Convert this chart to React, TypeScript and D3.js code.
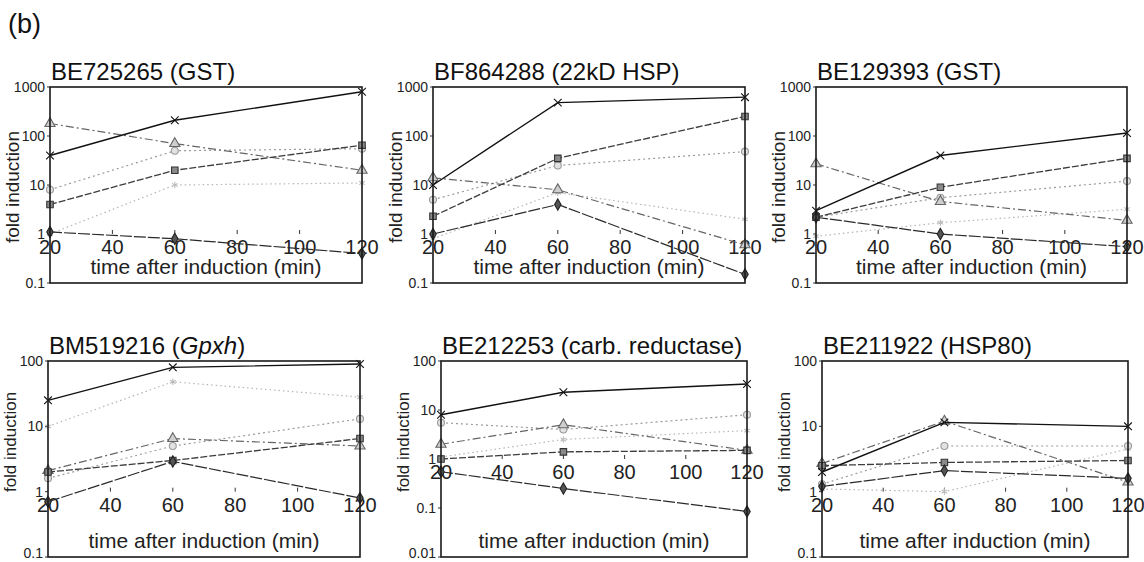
import React from 'react';
import * as d3 from 'd3';

// sampling times (min)
const times = [20, 60, 120];
const xTicks = [20, 40, 60, 80, 100, 120];

const panelIds = ['BE725265', 'BF864288', 'BE129393', 'BM519216', 'BE212253', 'BE211922'];
const panelGenes = ['GST', '22kD HSP', 'GST', 'Gpxh', 'carb. reductase', 'HSP80'];
const italicGene = [false, false, false, true, false, false];

const yDomains = [
  [0.1, 1000],
  [0.1, 1000],
  [0.1, 1000],
  [0.1, 100],
  [0.01, 100],
  [0.1, 100],
];
const yTickValues = [
  [0.1, 1, 10, 100, 1000],
  [0.1, 1, 10, 100, 1000],
  [0.1, 1, 10, 100, 1000],
  [0.1, 1, 10, 100],
  [0.01, 0.1, 1, 10, 100],
  [0.1, 1, 10, 100],
];

// series order: cross, square, triangle, circle, diamond, light
const seriesKinds = ['cross', 'square', 'triangle', 'circle', 'diamond', 'light'];

const be725265 = [
  [40, 210, 800],
  [4, 20, 65],
  [180, 70, 20],
  [8, 50, 55],
  [1.1, 0.8, 0.4],
  [1, 10, 11],
];
const bf864288 = [
  [10, 480, 620],
  [2.3, 35, 250],
  [14, 8, 0.6],
  [5, 25, 48],
  [1, 4, 0.15],
  [0.8, 7, 2],
];
const be129393 = [
  [3, 40, 115],
  [2.2, 9, 35],
  [27, 4.6, 1.9],
  [2.2, 5.5, 12],
  [2.2, 1.0, 0.55],
  [0.9, 1.7, 3.2],
];
const bm519216 = [
  [25, 80, 90],
  [2, 3, 6.5],
  [2.1, 6.5, 5],
  [1.6, 5, 13],
  [0.7, 2.9, 0.8],
  [10, 48, 28],
];
const be212253 = [
  [8, 23, 34],
  [1, 1.4, 1.5],
  [2, 5, 1.5],
  [5.5, 4, 8],
  [0.55, 0.25, 0.085],
  [1.1, 2.5, 3.8],
];
const be211922 = [
  [2, 11.5, 10],
  [2.5, 2.8, 3],
  [2.7, 12, 1.4],
  [1.3, 5, 5],
  [1.2, 2.1, 1.6],
  [1.1, 1.0, 4.5],
];

const panelData = [be725265, bf864288, be129393, bm519216, be212253, be211922];

// plot frames in page pixels
const frames = [
  { x0: 50, x1: 362, y0: 87, y1: 283 },
  { x0: 433, x1: 745, y0: 87, y1: 283 },
  { x0: 816, x1: 1127, y0: 87, y1: 283 },
  { x0: 48, x1: 360, y0: 361, y1: 557 },
  { x0: 441, x1: 747, y0: 361, y1: 557 },
  { x0: 822, x1: 1128, y0: 361, y1: 557 },
];

const FONT = 'Liberation Sans, Arial, Helvetica, sans-serif';

const styles: Record<string, any> = {
  cross: { stroke: '#111', dash: null, width: 1.4, symbol: d3.symbolTimes, size: 40, fill: 'none', mstroke: '#111' },
  square: { stroke: '#3c3c3c', dash: '7,2', width: 1.3, symbol: d3.symbolSquare, size: 42, fill: '#8a8a8a', mstroke: '#333' },
  triangle: { stroke: '#666', dash: '8,3,2,3', width: 1.2, symbol: d3.symbolTriangle, size: 45, fill: '#cfcfcf', mstroke: '#666' },
  circle: { stroke: '#9a9a9a', dash: '2,3', width: 1.2, symbol: d3.symbolCircle, size: 38, fill: '#e2e2e2', mstroke: '#999' },
  diamond: { stroke: '#2a2a2a', dash: '12,2', width: 1.2, symbol: d3.symbolDiamond, size: 36, fill: '#555', mstroke: '#222' },
  light: { stroke: '#b5b5b5', dash: '1.5,3', width: 1.2, symbol: d3.symbolAsterisk, size: 30, fill: 'none', mstroke: '#bbb' },
};

const Panel = ({ i }: { i: number }) => {
  const f = frames[i];
  const x = d3.scaleLinear().domain([20, 120]).range([f.x0, f.x1]);
  const y = d3.scaleLog().domain(yDomains[i]).range([f.y1, f.y0]);
  const line = d3
    .line<number>()
    .x((_, k) => x(times[k]))
    .y((d) => y(d));
  const data = panelData[i];
  const axisY = y(1);
  const top = i < 3;
  const drawOrder = [5, 3, 2, 1, 4, 0];
  const lowest = yDomains[i][0];

  return (
    <g>
      <text x={f.x0 + 1} y={f.y0 - 7} fontSize={24} fontFamily={FONT} fill="#111">
        {panelIds[i]} (
        <tspan fontStyle={italicGene[i] ? 'italic' : 'normal'}>{panelGenes[i]}</tspan>)
      </text>

      {/* y axis label */}
      <text
        transform={`translate(${f.x0 - 38},${top ? 187 : 442}) rotate(-90)`}
        textAnchor="middle"
        dy="0.35em"
        fontSize={top ? 19 : 17}
        fontFamily={FONT}
        fill="#222"
      >
        fold induction
      </text>

      {/* y ticks */}
      {yTickValues[i].map((t) => (
        <g key={t}>
          <line x1={f.x0 - 3} x2={f.x0} y1={y(t)} y2={y(t)} stroke="#333" />
          <text
            x={f.x0 - 5}
            y={y(t)}
            dy={t === lowest && !top ? '0.05em' : '0.35em'}
            textAnchor="end"
            fontSize={14}
            fontFamily={FONT}
            fill="#222"
          >
            {t}
          </text>
        </g>
      ))}

      {/* x ticks at y = 1 */}
      {xTicks.map((t) => (
        <g key={t}>
          {t > 20 && t < 120 && <line x1={x(t)} x2={x(t)} y1={axisY} y2={axisY - 4} stroke="#333" />}
          <text x={x(t)} y={axisY + 20} textAnchor="middle" fontSize={20} fontFamily={FONT} fill="#222">
            {t}
          </text>
        </g>
      ))}

      <text
        x={(f.x0 + f.x1) / 2}
        y={f.y1 - 9}
        textAnchor="middle"
        fontSize={21}
        fontFamily={FONT}
        fill="#222"
      >
        time after induction (min)
      </text>

      {/* series */}
      {drawOrder.map((s) => {
        const st = styles[seriesKinds[s]];
        const sym = d3.symbol().type(st.symbol).size(st.size)();
        return (
          <g key={s}>
            <path
              d={line(data[s]) || ''}
              fill="none"
              stroke={st.stroke}
              strokeWidth={st.width}
              strokeDasharray={st.dash || undefined}
            />
            {data[s].map((v, k) => (
              <path
                key={k}
                d={sym || ''}
                transform={`translate(${x(times[k])},${y(v)})`}
                fill={st.fill}
                stroke={st.mstroke}
                strokeWidth={1.1}
              />
            ))}
          </g>
        );
      })}

      {/* plot frame */}
      <rect x={f.x0} y={f.y0} width={f.x1 - f.x0} height={f.y1 - f.y0} fill="none" stroke="#1a1a1a" strokeWidth={1.6} />
    </g>
  );
};

export default function App() {
  return (
    <svg
      width={1144}
      height={562}
      style={{ position: 'absolute', left: 0, top: 0, background: '#fff' }}
    >
      <rect width={1144} height={562} fill="#fff" />
      <text x={8} y={33} fontSize={27} fontFamily={FONT} fill="#111">
        (b)
      </text>
      {frames.map((_, i) => (
        <Panel key={i} i={i} />
      ))}
    </svg>
  );
}
